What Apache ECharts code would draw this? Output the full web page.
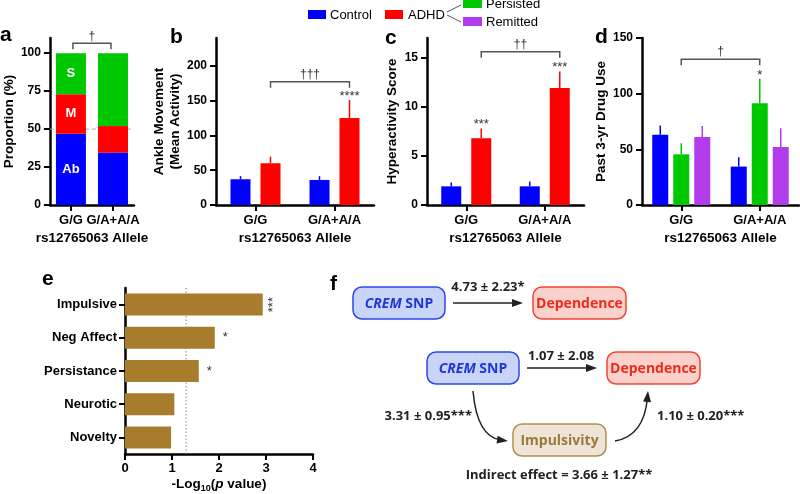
<!DOCTYPE html>
<html><head><meta charset="utf-8">
<script src="https://cdn.jsdelivr.net/npm/echarts@6/dist/echarts.min.js"></script>
<style>html,body{margin:0;padding:0;background:#fff}#c{width:800px;height:494px}</style>
</head><body><div id="c"></div>
<script>
// ---------- data ----------
const alleles = ['G/G', 'G/A+A/A'];
const groupNames = ['Control', 'ADHD', 'Persisted', 'Remitted'];
// panel a (proportion %)
const aSegNames = ['Ab', 'M', 'S'];
const aAb = [47, 34.5];
const aM = [26, 17.5];
const aS = [27, 48];
const aTicks = [0, 25, 50, 75, 100];
const aRef = 50;
const aBracketY = 106.5, aBracketMark = '†';
// panel b (ankle movement)
const bControl = [37, 36];
const bControlSEM = [4.5, 5.5];
const bADHD = [60, 125];
const bADHDSEM = [9.5, 26];
const bADHDSig = ['', '****'];
const bTicks = [0, 50, 100, 150, 200];
const bBracketY = 177, bBracketMark = '†††';
// panel c (hyperactivity)
const cControl = [1.9, 1.9];
const cControlSEM = [0.4, 0.5];
const cADHD = [6.8, 11.9];
const cADHDSEM = [1.0, 1.7];
const cADHDSig = ['***', '***'];
const cTicks = [0, 5, 10, 15];
const cBracketY = 15.6, cBracketMark = '††';
// panel d (drug use)
const dControl = [63, 34.5];
const dControlSEM = [8.4, 8.5];
const dPersisted = [45.5, 91.5];
const dPersistedSEM = [10, 22];
const dPersistedSig = ['', '*'];
const dRemitted = [61, 52];
const dRemittedSEM = [10, 17];
const dTicks = [0, 50, 100, 150];
const dBracketY = 131, dBracketMark = '†';
// panel e (-log10 p)
const traits = ['Impulsive', 'Neg Affect', 'Persistance', 'Neurotic', 'Novelty'];
const traitLogP = [2.93, 1.91, 1.57, 1.05, 0.98];
const traitSig = ['***', '*', '*', '', ''];
const eThreshold = 1.3;
const eTicks = [0, 1, 2, 3, 4];

// ---------- style ----------
const BLUE = '#0000FF', RED = '#FF0000', GREEN = '#00C800', PURPLE = '#B23CEA', BROWN = '#A77C2D';
const FONT = 'Liberation Sans';
const AXLINE = {show: true, lineStyle: {color: '#000', width: 2.5}};
const TICKSTYLE = {color: '#000', width: 2};
const NAMESTYLE = {color: '#000', fontWeight: 'bold', fontSize: 13.5, fontFamily: FONT, lineHeight: 16};

function yAx(gi, max, ticks, name, gap) {
  return {
    type: 'value', gridIndex: gi, min: 0, max: max, interval: ticks[1] - ticks[0],
    axisLine: AXLINE,
    axisTick: {show: true, length: 6, lineStyle: TICKSTYLE, customValues: ticks},
    axisLabel: {color: '#000', fontWeight: 'bold', fontSize: 12, fontFamily: FONT, margin: 9, customValues: ticks,
      formatter: v => ticks.indexOf(v) >= 0 ? String(v) : ''},
    splitLine: {show: false},
    name: name, nameLocation: 'middle', nameGap: gap, nameTextStyle: NAMESTYLE
  };
}
function xCat(gi) {
  return {
    type: 'category', gridIndex: gi, data: alleles,
    axisLine: AXLINE,
    axisTick: {show: true, alignWithLabel: true, length: 6, lineStyle: TICKSTYLE},
    axisLabel: {color: '#000', fontWeight: 'bold', fontSize: 13, fontFamily: FONT, margin: 9, interval: 0, hideOverlap: false},
    name: 'rs12765063 Allele', nameLocation: 'middle', nameGap: 25, nameTextStyle: NAMESTYLE
  };
}
function barOffset(i, n, bw, gap) {
  return -(n * bw + (n - 1) * gap) / 2 + i * (bw + gap) + bw / 2;
}
function barSeries(gi, name, vals, color, bw, gapPct) {
  return {type: 'bar', name: name, xAxisIndex: gi, yAxisIndex: gi, data: vals, barWidth: bw, barGap: gapPct,
    itemStyle: {color: color}, z: 3, silent: true};
}
function errSeries(gi, vals, sems, sig, offset, color) {
  return {
    type: 'custom', xAxisIndex: gi, yAxisIndex: gi, z: 4, silent: true,
    data: vals.map((v, i) => [i, v, v + sems[i]]),
    renderItem: function (params, api) {
      const idx = api.value(0);
      const base = api.coord([idx, api.value(1)]);
      const top = api.coord([idx, api.value(2)]);
      const x = base[0] + offset;
      const children = [{type: 'line', shape: {x1: x, y1: base[1], x2: x, y2: top[1]},
        style: {stroke: color, lineWidth: 1.5}}];
      const s = sig ? sig[params.dataIndex] : '';
      if (s) children.push({type: 'text', x: x, y: top[1] + 3,
        style: {text: s, align: 'center', verticalAlign: 'bottom', fill: '#333', fontSize: 13, fontFamily: FONT}});
      return {type: 'group', children: children};
    }
  };
}
function bracketSeries(gi, yVal, mark, offset, inset) {
  return {
    type: 'custom', xAxisIndex: gi, yAxisIndex: gi, z: 4, silent: true,
    data: [[0, yVal, 1]],
    renderItem: function (params, api) {
      const p1 = api.coord([0, api.value(1)]);
      const p2 = api.coord([1, api.value(1)]);
      const x1 = p1[0] + offset + inset, x2 = p2[0] + offset - inset, y = p1[1];
      return {type: 'group', children: [
        {type: 'polyline', shape: {points: [[x1, y + 6], [x1, y], [x2, y], [x2, y + 6]]},
          style: {stroke: '#555', lineWidth: 1.5, fill: null}},
        {type: 'text', x: (x1 + x2) / 2, y: y - 1,
          style: {text: mark, align: 'center', verticalAlign: 'bottom', fill: '#333', fontSize: 12, fontFamily: FONT}}
      ]};
    }
  };
}
// reference line across a grid (horizontal: value on y; vertical: value on x)
function refLine(gi, val, vertical, color, dash) {
  return {
    type: 'custom', xAxisIndex: gi, yAxisIndex: gi, z: 1, silent: true,
    data: [[vertical ? val : 0, vertical ? 0 : val]],
    renderItem: function (params, api) {
      const cs = params.coordSys;
      const p = api.coord([api.value(0), api.value(1)]);
      const shape = vertical
        ? {x1: p[0], y1: cs.y, x2: p[0], y2: cs.y + cs.height}
        : {x1: cs.x, y1: p[1], x2: cs.x + cs.width, y2: p[1]};
      return {type: 'line', shape: shape, style: {stroke: color, lineWidth: 1, lineDash: dash}};
    }
  };
}

// ---------- series ----------
const series = [];
// a
series.push(refLine(0, aRef, false, '#aaa', [4, 3]));
[aAb, aM, aS].forEach((arr, k) => {
  series.push({
    type: 'bar', name: aSegNames[k], xAxisIndex: 0, yAxisIndex: 0, stack: 'a', barWidth: 30, z: 3, silent: true,
    itemStyle: {color: [BLUE, RED, GREEN][k]},
    label: {show: true, position: 'inside', color: '#fff', fontWeight: 'bold', fontSize: 13, fontFamily: FONT,
      formatter: p => p.dataIndex === 0 ? aSegNames[k] : ''},
    data: arr
  });
});
series.push(bracketSeries(0, aBracketY, aBracketMark, 0, 2));
// b
series.push(barSeries(1, groupNames[0], bControl, BLUE, 20, '50%'));
series.push(barSeries(1, groupNames[1], bADHD, RED, 20, '50%'));
series.push(errSeries(1, bControl, bControlSEM, null, barOffset(0, 2, 20, 10), BLUE));
series.push(errSeries(1, bADHD, bADHDSEM, bADHDSig, barOffset(1, 2, 20, 10), RED));
series.push(bracketSeries(1, bBracketY, bBracketMark, barOffset(1, 2, 20, 10), 0));
// c
series.push(barSeries(2, groupNames[0], cControl, BLUE, 20, '50%'));
series.push(barSeries(2, groupNames[1], cADHD, RED, 20, '50%'));
series.push(errSeries(2, cControl, cControlSEM, null, barOffset(0, 2, 20, 10), BLUE));
series.push(errSeries(2, cADHD, cADHDSEM, cADHDSig, barOffset(1, 2, 20, 10), RED));
series.push(bracketSeries(2, cBracketY, cBracketMark, barOffset(1, 2, 20, 10), 0));
// d
series.push(barSeries(3, groupNames[0], dControl, BLUE, 16, '31.25%'));
series.push(barSeries(3, groupNames[2], dPersisted, GREEN, 16, '31.25%'));
series.push(barSeries(3, groupNames[3], dRemitted, PURPLE, 16, '31.25%'));
series.push(errSeries(3, dControl, dControlSEM, null, barOffset(0, 3, 16, 5), BLUE));
series.push(errSeries(3, dPersisted, dPersistedSEM, dPersistedSig, barOffset(1, 3, 16, 5), GREEN));
series.push(errSeries(3, dRemitted, dRemittedSEM, null, barOffset(2, 3, 16, 5), PURPLE));
series.push(bracketSeries(3, dBracketY, dBracketMark, barOffset(1, 3, 16, 5), 0));
// e
series.push(refLine(4, eThreshold, true, '#888', [1.5, 2]));
series.push({
  type: 'bar', xAxisIndex: 4, yAxisIndex: 4, barWidth: 22, z: 3, silent: true,
  itemStyle: {color: BROWN},
  label: {show: true, position: 'right', distance: 8, color: '#333', fontSize: 13, fontFamily: FONT,
    formatter: p => traitSig[p.dataIndex]},
  data: traitLogP.map((v, i) => traitSig[i].length > 1
    ? {value: v, label: {rotate: 90, align: 'center', verticalAlign: 'middle', distance: 11}}
    : v)
});

// ---------- graphics (legend, panel letters, panel f diagram) ----------
const G = [];
function txt(x, y, text, opt) {
  G.push(Object.assign({type: 'text', x: x, y: y, silent: true,
    style: Object.assign({text: text, fill: '#000', fontFamily: FONT, fontSize: 13, verticalAlign: 'middle'}, opt || {})}));
}
// legend
G.push({type: 'rect', shape: {x: 308, y: 10, width: 18, height: 9}, style: {fill: BLUE}});
txt(330, 15, groupNames[0]);
G.push({type: 'rect', shape: {x: 385, y: 10, width: 18, height: 9}, style: {fill: RED}});
txt(408, 15, groupNames[1]);
G.push({type: 'line', shape: {x1: 447, y1: 12, x2: 461, y2: 5}, style: {stroke: '#555', lineWidth: 1}});
G.push({type: 'line', shape: {x1: 447, y1: 15, x2: 461, y2: 22}, style: {stroke: '#555', lineWidth: 1}});
G.push({type: 'rect', shape: {x: 463, y: -1, width: 19, height: 9}, style: {fill: GREEN}});
txt(486, 4, groupNames[2]);
G.push({type: 'rect', shape: {x: 463, y: 17, width: 19, height: 9}, style: {fill: PURPLE}});
txt(486, 22, groupNames[3]);
// panel letters
const LET = {fontWeight: 'bold', fontSize: 21};
txt(0, 35, 'a', LET); txt(170, 37, 'b', LET); txt(385, 38, 'c', LET); txt(595, 37, 'd', LET);
txt(42, 279, 'e', LET); txt(330, 284, 'f', LET);

// panel f
const FF = 'Open Sans';
const FT = {fontFamily: FF, fontWeight: 'bold', fontSize: 13};
function box(x, y, w, h, fill, stroke, text, color) {
  G.push({type: 'rect', shape: {x: x, y: y, width: w, height: h, r: 9}, style: {fill: fill, stroke: stroke, lineWidth: 1.5}});
  G.push({type: 'text', x: x + w / 2, y: y + h / 2 + 1, silent: true, style: {
    text: text, fill: color, align: 'center', verticalAlign: 'middle', fontFamily: FF, fontWeight: 'bold', fontSize: 14,
    rich: {i: {fontStyle: 'italic', fontWeight: 'bold', fontFamily: FF, fontSize: 14, fill: color},
           n: {fontWeight: 'bold', fontFamily: FF, fontSize: 14, fill: color}}
  }});
}
function head(x, y, ang) {
  const L = 11, W = 4;
  const bx = x - L * Math.cos(ang), by = y - L * Math.sin(ang);
  const px = -Math.sin(ang) * W, py = Math.cos(ang) * W;
  G.push({type: 'polygon', shape: {points: [[x, y], [bx + px, by + py], [bx - px, by - py]]}, style: {fill: '#222'}});
}
function arrow(x1, y1, x2, y2) {
  const ang = Math.atan2(y2 - y1, x2 - x1);
  G.push({type: 'line', shape: {x1: x1, y1: y1, x2: x2 - 8 * Math.cos(ang), y2: y2 - 8 * Math.sin(ang)}, style: {stroke: '#222', lineWidth: 1.5}});
  head(x2, y2, ang);
}
function curve(x1, y1, cx, cy, x2, y2) {
  const ang = Math.atan2(y2 - cy, x2 - cx);
  G.push({type: 'bezierCurve', shape: {x1: x1, y1: y1, cpx1: cx, cpy1: cy, x2: x2 - 7 * Math.cos(ang), y2: y2 - 7 * Math.sin(ang)},
    style: {stroke: '#222', lineWidth: 1.5, fill: null}});
  head(x2, y2, ang);
}
const SNPF = '#C9D5F8', SNPS = '#2F45EE', SNPT = '#1F36D8';
const DEPF = '#FBD2CB', DEPS = '#F04534', DEPT = '#EE2A1A';
const IMPF = '#EFE5D6', IMPS = '#B0904F', IMPT = '#9A7A3C';
box(353, 287, 92, 32, SNPF, SNPS, '{i|CREM}{n| SNP}', SNPT);
box(533, 287, 93, 32, DEPF, DEPS, 'Dependence', DEPT);
arrow(453, 303, 523, 303);
txt(488, 287, '4.73 ± 2.23*', Object.assign({align: 'center', fill: '#222'}, FT));
box(427, 352, 92, 32, SNPF, SNPS, '{i|CREM}{n| SNP}', SNPT);
box(607, 352, 93, 32, DEPF, DEPS, 'Dependence', DEPT);
arrow(527, 368, 597, 368);
txt(561, 356, '1.07 ± 2.08', Object.assign({align: 'center', fill: '#222'}, FT));
box(513, 424, 93, 32, IMPF, IMPS, 'Impulsivity', IMPT);
curve(473, 391, 477, 437, 508, 441);
curve(615, 441, 644, 436, 648, 391);
txt(472, 416, '3.31 ± 0.95***', Object.assign({align: 'right', fill: '#222'}, FT));
txt(657, 416, '1.10 ± 0.20***', Object.assign({align: 'left', fill: '#222'}, FT));
txt(559, 475, 'Indirect effect = 3.66 ± 1.27**', Object.assign({align: 'center', fill: '#222'}, FT));

// ---------- option ----------
const option = {
  animation: false,
  backgroundColor: '#fff',
  grid: [
    {left: 42, top: 38, width: 92, height: 167},
    {left: 216, top: 38, width: 158, height: 167},
    {left: 427, top: 38, width: 157, height: 167},
    {left: 642, top: 38, width: 157, height: 167},
    {left: 125, top: 288, width: 188, height: 166}
  ],
  xAxis: [xCat(0), xCat(1), xCat(2), xCat(3), {
    type: 'value', gridIndex: 4, min: 0, max: 4, interval: 1,
    axisLine: AXLINE,
    axisTick: {show: true, length: 6, lineStyle: TICKSTYLE, customValues: eTicks},
    axisLabel: {color: '#000', fontWeight: 'bold', fontSize: 13, fontFamily: FONT, margin: 8, customValues: eTicks},
    splitLine: {show: false},
    name: '-Log{sub|10}({it|p} value)', nameLocation: 'middle', nameGap: 21,
    nameTextStyle: Object.assign({}, NAMESTYLE, {rich: {
      sub: {fontSize: 9, fontWeight: 'bold', fontFamily: FONT, color: '#000', padding: [9, 0, 0, 0]},
      it: {fontSize: 13.5, fontWeight: 'bold', fontStyle: 'italic', fontFamily: FONT, color: '#000'}
    }})
  }],
  yAxis: [
    yAx(0, 110, aTicks, 'Proportion (%)', 25),
    yAx(1, 240, bTicks, 'Ankle Movement\n(Mean Activity)', 30),
    yAx(2, 17, cTicks, 'Hyperactivity Score', 27),
    yAx(3, 150, dTicks, 'Past 3-yr Drug Use', 33),
    {type: 'category', gridIndex: 4, data: traits, inverse: true,
      axisLine: AXLINE,
      axisTick: {show: true, alignWithLabel: true, length: 6, lineStyle: TICKSTYLE},
      axisLabel: {color: '#000', fontWeight: 'bold', fontSize: 13, fontFamily: FONT, margin: 8, interval: 0}}
  ],
  series: series,
  graphic: {elements: G}
};
const chart = echarts.init(document.getElementById('c'));
chart.setOption(option);
</script>
</body></html>
